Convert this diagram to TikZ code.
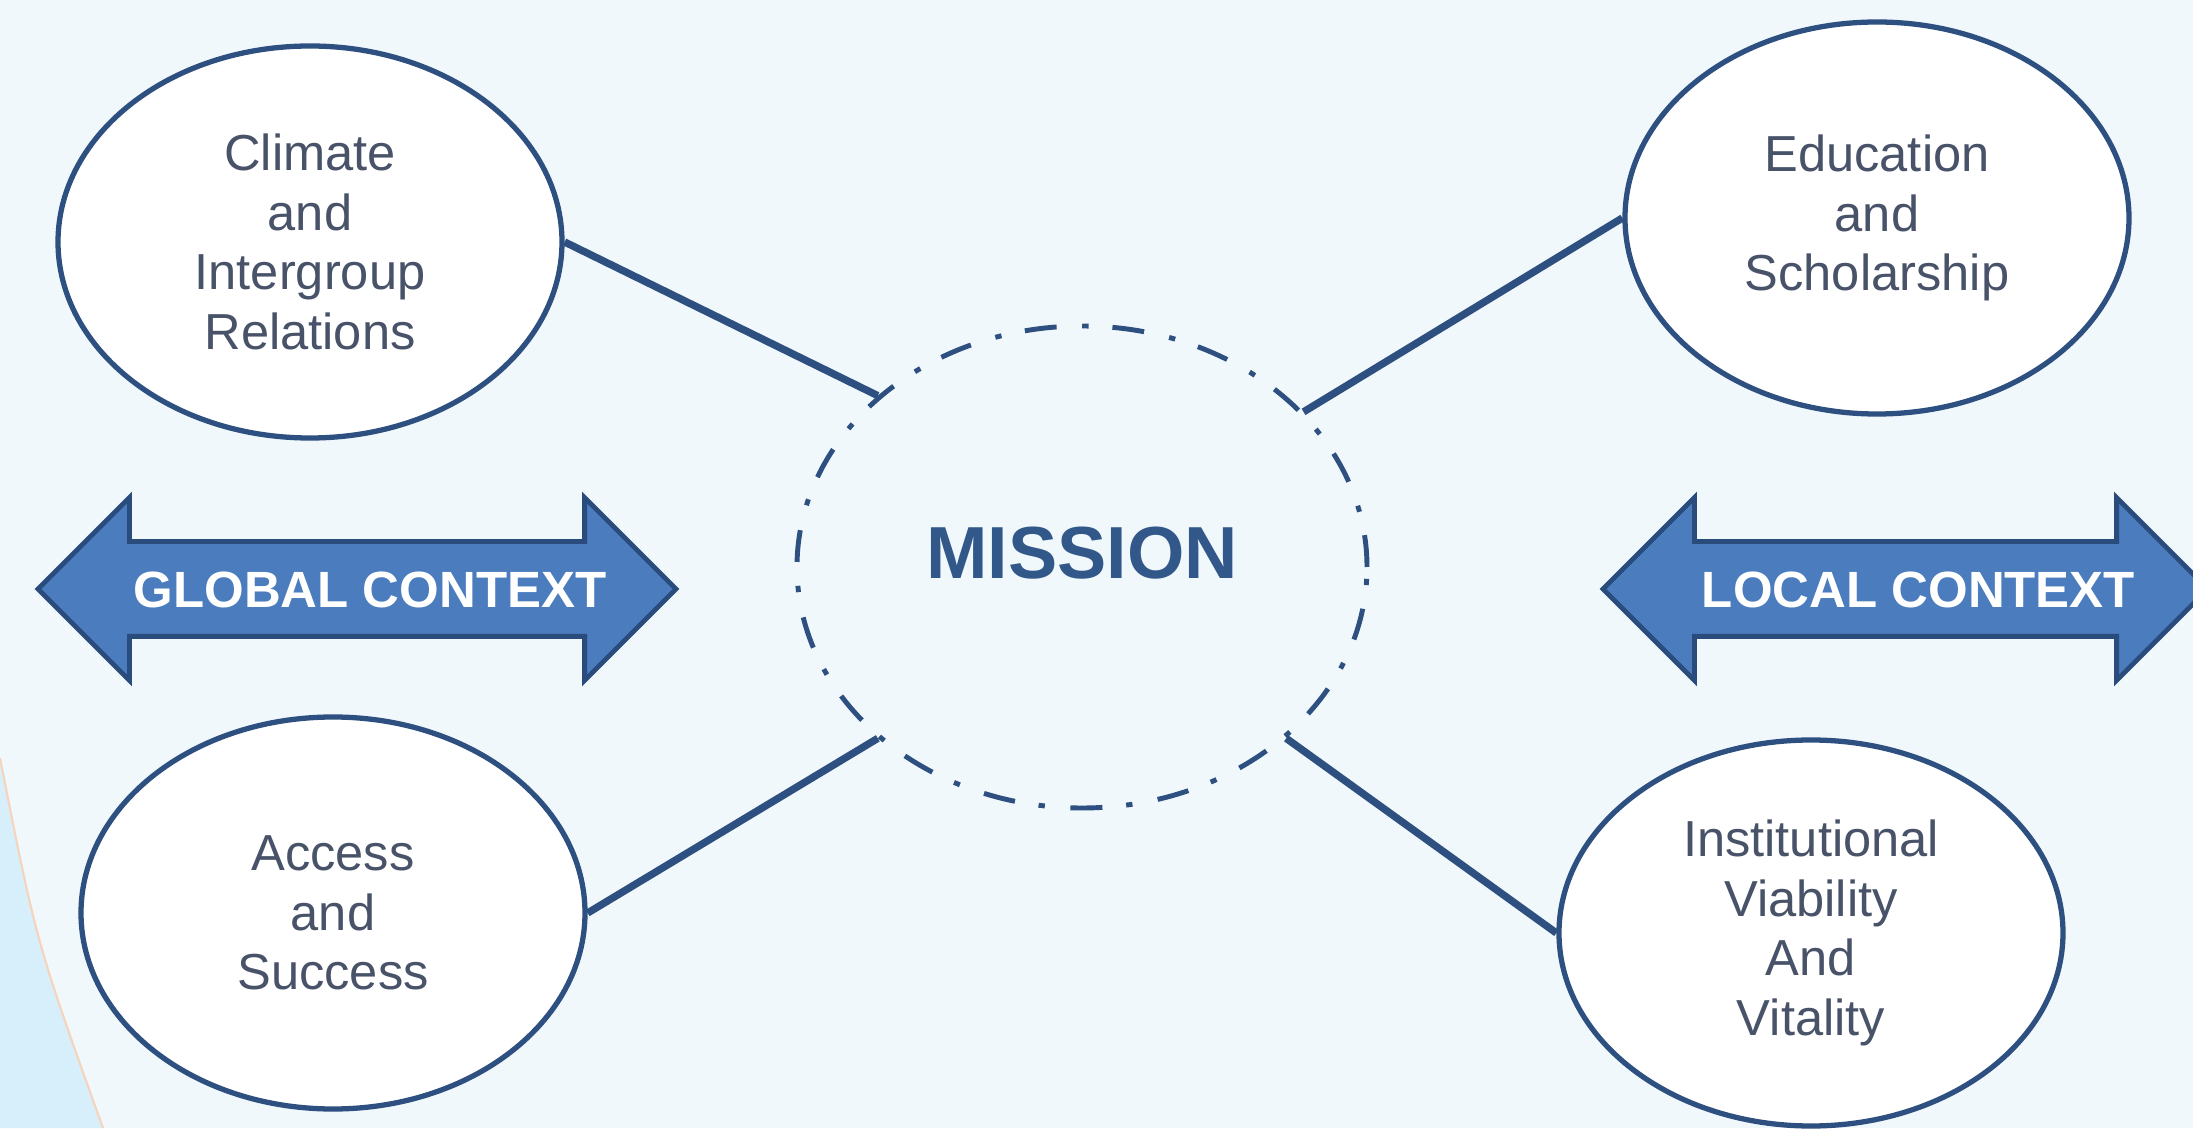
\documentclass[tikz,border=0pt]{standalone}
\usepackage{fontspec}
\setmainfont{Liberation Sans}
\usetikzlibrary{shapes.geometric,shapes.arrows}
\definecolor{bgblue}{RGB}{240,248,252}
\definecolor{sideblue}{RGB}{214,239,251}
\definecolor{sideline}{RGB}{246,212,188}
\definecolor{linkblue}{RGB}{46,80,128}
\definecolor{arrowline}{RGB}{42,76,124}
\definecolor{arrowblue}{RGB}{74,124,190}
\definecolor{textgray}{RGB}{72,82,104}
\definecolor{missionblue}{RGB}{50,88,138}
\begin{document}
\begin{tikzpicture}[
	area/.style={ellipse, draw=linkblue, line width=1.5pt, fill=white, minimum width=5.04cm, minimum height=3.92cm, text=textgray, align=center, font=\fontsize{14.4}{17}\selectfont},
	link/.style={draw=linkblue, line width=2.1pt},
	context/.style={double arrow, double arrow head extend=0.44cm, double arrow tip angle=90, draw=arrowline, line width=1.4pt, fill=arrowblue, text=white, font=\fontsize{14.5}{17}\selectfont\bfseries, inner xsep=-0.3cm, inner ysep=0.265cm, text height=0.37cm, text depth=0pt}
	]
		%background
		\clip (0,0) rectangle (21.93,11.28);
		\fill[bgblue] (0,0) rectangle (21.93,11.28);
		\fill[sideblue] (0,3.70) .. controls (0.365,1.85) .. (1.03,0) -- (0,0) -- cycle;
		\draw[sideline, line width=0.6pt] (0,3.70) .. controls (0.365,1.85) .. (1.03,0);
		
		%areas
		\node[area] (climate) at (3.10,8.86) {Climate\\and\\Intergroup\\Relations};
		\node[area] (education) at (18.77,9.10) {Education\\and\\Scholarship};
		\node[area] (access) at (3.33,2.15) {Access\\and\\Success};
		\node[area, minimum height=3.86cm] (institution) at (18.11,1.95) {Institutional\\Viability\\And\\Vitality};
		
		%mission
		\node[ellipse, draw=linkblue, line width=1.4pt, dash pattern=on 9.1pt off 6.8pt on 1.8pt off 7.3pt, minimum width=5.70cm, minimum height=4.82cm, text=missionblue, font=\fontsize{21}{24}\selectfont\bfseries, text height=0.53cm, text depth=0.30cm] (mission) at (10.82,5.61) {MISSION};
		
		\draw[link] (climate.east) -- (mission.140);
		\draw[link] (education.west) -- (mission.35);
		\draw[link] (access.east) -- (mission.220);
		\draw[link] (institution.west) -- (mission.320);
		
		%contexts
		\node[context, minimum height=6.38cm] (global) at (3.57,5.39) {\hspace*{0.26cm}GLOBAL CONTEXT};
		\node[context, minimum height=6.05cm] (local) at (19.055,5.39) {\hspace*{0.26cm}LOCAL CONTEXT};
\end{tikzpicture}
\end{document}
